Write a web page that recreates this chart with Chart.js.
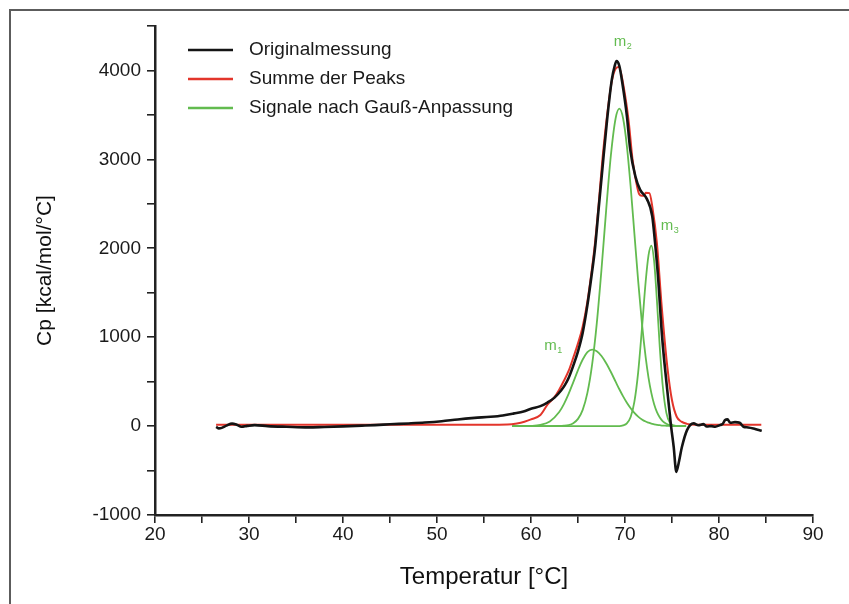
<!DOCTYPE html>
<html>
<head>
<meta charset="utf-8">
<script src="https://cdn.jsdelivr.net/npm/chart.js@4.4.1/dist/chart.umd.min.js"></script>
<style>
  html, body { margin: 0; padding: 0; background: #fff; }
  #wrap { position: relative; width: 849px; height: 604px; overflow: hidden; }
  #frame { position: absolute; left: 9px; top: 9px; width: 900px; height: 700px;
           border-left: 2px solid #5c5c5c; border-top: 2px solid #5c5c5c; pointer-events: none; }
  canvas { position: absolute; left: 0; top: 0; }
</style>
</head>
<body>
<div id="wrap">
  <canvas id="dscChart" width="849" height="604"></canvas>
  <div id="frame"></div>
</div>
<script>
// Originalmessung (schwarz)
const origT = [26.5, 26.8, 27.1, 27.6, 28.2, 28.7, 29.2, 29.8, 30.6, 32, 34, 36.3, 38, 40, 42, 43.4, 45, 47, 48.7, 50.5,
  52.2, 54, 55.7, 57, 58.2, 59.2, 60, 61, 61.75, 62.5, 63.2, 63.6, 64, 64.5, 65, 65.5, 66, 66.4, 66.8, 67.2,
  67.6, 68.1, 68.6, 68.9, 69.1, 69.4, 69.7, 70.2, 70.55, 71.1, 71.6, 72.35, 72.9, 73.2, 73.5, 73.95, 74.4, 74.9, 75.18, 75.46,
  75.7, 76.06, 76.6, 77.3, 77.8, 78.35, 78.7, 79.2, 79.6, 80.1, 80.4, 80.65, 80.9, 81.2, 81.7, 82.2, 82.6, 83.1, 83.65, 84.1, 84.55];
const origCp = [-8, -26, -20, 5, 28, 15, -8, 2, 11, 0, -8, -15, -10, -3, 5, 11, 20, 30, 40, 55,
  75, 92, 105, 120, 143, 165, 195, 225, 265, 320, 400, 460, 540, 680, 840, 1050, 1360, 1660, 1990, 2450,
  2900, 3450, 3900, 4050, 4105, 4050, 3870, 3490, 3115, 2810, 2660, 2550, 2360, 2060, 1700, 1000, 500, 0, -233, -515,
  -420, -233, -45, 30, 10, 22, -5, 0, -7, 11, 25, 68, 75, 38, 45, 38, -7, -15, -26, -40, -53];

// Summe der Peaks (rot)
const sumT = [26.5, 30, 35, 40, 45, 50, 55, 57.5, 58.5, 59.3, 60, 61, 61.75, 62.45, 63, 63.5, 64, 64.5, 65, 65.5,
  66, 66.4, 66.8, 67.2, 67.6, 68.1, 68.6, 69.0, 69.35, 69.9, 70.4, 70.8, 71.2, 71.5, 71.8, 72.05, 72.2, 72.6, 72.9, 73.4,
  73.9, 74.5, 75.0, 75.5, 76.0, 76.6, 77.5, 80, 84.5];
const sumCp = [15, 15, 14, 14, 14, 14, 15, 18, 30, 49, 75, 124, 240, 320, 410, 510, 620, 770, 930, 1120,
  1400, 1700, 2050, 2500, 3000, 3500, 3880, 4020, 4040, 3790, 3420, 3000, 2740, 2610, 2590, 2590, 2625, 2620, 2470, 2050,
  1350, 670, 290, 105, 50, 25, 15, 15, 15];

// Gauß-Signale m1, m2, m3 (grün)
const gaussT = [58, 59, 60, 61, 62, 63, 63.5, 64, 64.5, 65, 65.5, 66, 66.5, 67, 67.5, 68, 68.5, 69, 69.4, 69.8,
  70.2, 70.6, 71, 71.4, 71.8, 72.2, 72.5, 72.8, 73.1, 73.4, 73.7, 74, 74.4, 74.8, 75.2, 75.6, 76, 76.5];
const m1Cp = [0, 0, 2, 13, 52, 158, 247, 362, 494, 630, 749, 831, 860, 842, 788, 707, 608, 500, 414, 334,
  262, 200, 148, 107, 75, 51, 38, 27, 20, 14, 10, 6, 4, 2, 1, 0, 0, 0];
const m2Cp = [0, 0, 0, 0, 0, 1, 4, 12, 33, 81, 183, 373, 691, 1159, 1764, 2435, 3048, 3460, 3570, 3460,
  3150, 2695, 2165, 1634, 1159, 772, 546, 373, 246, 157, 97, 57, 27, 12, 5, 2, 0, 0];
const m3Cp = [0, 0, 0, 0, 0, 0, 0, 0, 0, 0, 0, 0, 0, 0, 0, 0, 0, 0, 0, 8,
  31, 102, 275, 605, 1095, 1626, 1920, 2030, 1852, 1406, 888, 468, 149, 34, 6, 0, 0, 0];

const seriesNames = ['Originalmessung', 'Summe der Peaks', 'Signale nach Gauß-Anpassung'];
const peakSubs = ['1', '2', '3'];
const peakLabelT = [61.4, 68.8, 73.8];
const peakLabelCp = [860, 4270, 2210];

const BLACK = '#141414', RED = '#e3352b', GREEN = '#62bb4f';
const FONT = '"Liberation Sans", Arial, sans-serif';

const toPts = (xs, ys) => xs.map((x, i) => ({ x: x, y: ys[i] }));

function lineSet(label, pts, color, width) {
    return { label: label, data: pts, borderColor: color, backgroundColor: color, borderWidth: width,
             pointRadius: 0, fill: false, cubicInterpolationMode: 'monotone' };
}

// Legende oben links im Diagramm
const cornerLegend = {
    id: 'cornerLegend',
    afterDraw(chart) {
        const ctx = chart.ctx;
        ctx.save();
        ctx.font = '19px ' + FONT;
        ctx.textBaseline = 'middle';
        ctx.textAlign = 'left';
        [0, 1, 2].forEach((i, row) => {
            const ds = chart.data.datasets[i];
            const y = 50 + row * 29;
            ctx.strokeStyle = ds.borderColor;
            ctx.lineWidth = 2.5;
            ctx.beginPath(); ctx.moveTo(188, y); ctx.lineTo(233, y); ctx.stroke();
            ctx.fillStyle = '#1a1a1a';
            ctx.fillText(ds.label, 249, y);
        });
        ctx.restore();
    }
};

// Beschriftung m1, m2, m3
const peakNames = {
    id: 'peakNames',
    afterDatasetsDraw(chart) {
        const ctx = chart.ctx, xs = chart.scales.x, ys = chart.scales.y;
        ctx.save();
        ctx.fillStyle = GREEN;
        ctx.textBaseline = 'alphabetic';
        ctx.textAlign = 'left';
        peakSubs.forEach((s, i) => {
            const px = xs.getPixelForValue(peakLabelT[i]);
            const py = ys.getPixelForValue(peakLabelCp[i]);
            ctx.font = '15px ' + FONT;
            ctx.fillText('m', px, py);
            const w = ctx.measureText('m').width;
            ctx.font = '9px ' + FONT;
            ctx.fillText(s, px + w + 0.5, py + 3);
        });
        ctx.restore();
    }
};

Chart.defaults.font.family = FONT;
Chart.defaults.color = '#1a1a1a';

new Chart(document.getElementById('dscChart'), {
    type: 'line',
    data: {
        datasets: [
            lineSet(seriesNames[0], toPts(origT, origCp), BLACK, 2.6),
            lineSet(seriesNames[1], toPts(sumT, sumCp), RED, 2),
            lineSet(seriesNames[2], toPts(gaussT, m1Cp), GREEN, 1.8),
            lineSet(seriesNames[2], toPts(gaussT, m2Cp), GREEN, 1.8),
            lineSet(seriesNames[2], toPts(gaussT, m3Cp), GREEN, 1.8)
        ]
    },
    options: {
        responsive: false,
        animation: false,
        devicePixelRatio: 1,
        layout: { padding: { top: 26, right: 36, left: 0, bottom: 0 } },
        plugins: { legend: { display: false }, tooltip: { enabled: false } },
        scales: {
            x: {
                type: 'linear', min: 20, max: 90,
                afterFit: (s) => { s.height = 89; },
                ticks: { stepSize: 5, autoSkip: false, maxRotation: 0, padding: 0,
                         font: { size: 19 }, color: '#1a1a1a',
                         callback: (v) => (v % 10 === 0 ? v : '') },
                grid: { drawOnChartArea: false, drawTicks: true, tickLength: 8, color: '#222', lineWidth: 1.6 },
                border: { display: true, color: '#222', width: 2.5 },
                title: { display: true, text: 'Temperatur [°C]', font: { size: 24 }, color: '#111',
                         padding: { top: 0, bottom: 12 } }
            },
            y: {
                min: -1000, max: 4500,
                afterFit: (s) => { s.width = 155; },
                ticks: { stepSize: 500, autoSkip: false, padding: 6,
                         font: { size: 19 }, color: '#1a1a1a',
                         callback: (v) => (v % 1000 === 0 ? v : '') },
                grid: { drawOnChartArea: false, drawTicks: true, tickLength: 8, color: '#222', lineWidth: 1.6 },
                border: { display: true, color: '#222', width: 2.5 },
                title: { display: true, text: 'Cp [kcal/mol/°C]', font: { size: 21 }, color: '#111',
                         padding: { top: 33, bottom: 0 } }
            }
        }
    },
    plugins: [cornerLegend, peakNames]
});
</script>
</body>
</html>
